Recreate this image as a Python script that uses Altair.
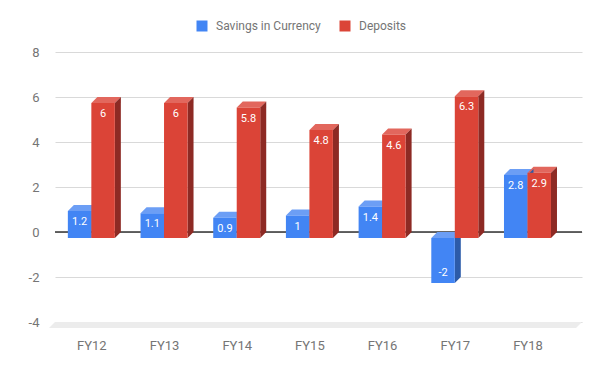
import json
import altair as alt
import pandas as pd

# ---- data ----
categories = ["FY12", "FY13", "FY14", "FY15", "FY16", "FY17", "FY18"]
series = ["Savings in Currency", "Deposits"]
savings = [1.2, 1.1, 0.9, 1.0, 1.4, -2.0, 2.8]
deposits = [6.0, 6.0, 5.8, 4.8, 4.6, 6.3, 2.9]
y_ticks = [-4, -2, 0, 2, 4, 6, 8]

# ---- style constants ----
FRONT = ["#4285F4", "#DB4437"]
TOP = ["#6C9EF5", "#E2675D"]
SIDE = ["#2C5BA9", "#8D2A24"]
PLOT_W, PLOT_H = 527, 270
X_MAX = 7.25                      # x domain in category units
PX_X = PLOT_W / X_MAX             # pixels per x unit
PX_Y = PLOT_H / 12.0              # pixels per y unit
DX = 6 / PX_X                     # 3D depth, x
DY = 6 / PX_Y                     # 3D depth, y
W = 23.5 / PX_X                   # bar width
FONT = "Roboto"
GRAY = "#757575"

front_rows, top_rows, side_rows, label_rows = [], [], [], []
for i, cat in enumerate(categories):
    c = i + 0.5
    for s, vals in enumerate([savings, deposits]):
        v = vals[i]
        x0 = c - W if s == 0 else c
        x1 = x0 + W
        name = series[s]
        fid = f"{cat}-{s}"
        front_rows.append(dict(series=name, x0=x0, x1=x1, ya=v - DY, yb=-DY))
        t = max(v, 0)
        top_rows.append(dict(series=name, fid=fid, y=t - DY, xa=x0, xb=x1))
        top_rows.append(dict(series=name, fid=fid, y=t, xa=x0 + DX, xb=x1 + DX))
        side_rows.append(dict(series=name, fid=fid, x=x1, ya=v - DY, yb=-DY))
        side_rows.append(dict(series=name, fid=fid, x=x1 + DX, ya=v, yb=0))
        label_rows.append(dict(series=name, x=(x0 + x1) / 2, y=v - DY,
                               label=f"{v:g}", pos=v >= 0))

front_df = pd.DataFrame(front_rows)
top_df = pd.DataFrame(top_rows)
side_df = pd.DataFrame(side_rows)
label_df = pd.DataFrame(label_rows)
floor_df = pd.DataFrame([
    dict(y=-4 - DY, xa=0 - DX, xb=X_MAX - DX),
    dict(y=-4, xa=0, xb=X_MAX),
])

xscale = alt.Scale(domain=[0, X_MAX], nice=False, zero=False)
yscale = alt.Scale(domain=[-4, 8], nice=False, zero=False)
xax = alt.Axis(title=None, values=[i + 0.5 for i in range(len(categories))],
               labelExpr=f"{json.dumps(categories)}[floor(datum.value)]",
               grid=False, ticks=False, domain=False, labelPadding=17,
               labelFont=FONT, labelFontSize=13, labelColor=GRAY)
yax = alt.Axis(title=None, values=y_ticks, grid=True, gridColor="#d9d9d9",
               labelExpr="'' + datum.value",
               ticks=False, domain=False, labelPadding=16,
               labelFont=FONT, labelFontSize=13, labelColor=GRAY)

floor = alt.Chart(floor_df).mark_area(orient="horizontal", color="#ececec").encode(
    y=alt.Y("y:Q", scale=yscale, axis=yax),
    x=alt.X("xa:Q", scale=xscale, axis=xax),
    x2="xb:Q",
)

zero = alt.Chart(floor_df).mark_rule(color="#333333", strokeWidth=1).encode(
    y=alt.datum(0),
)

top = alt.Chart(top_df).mark_area(orient="horizontal").encode(
    y=alt.Y("y:Q", scale=yscale, axis=yax),
    x=alt.X("xa:Q", scale=xscale, axis=xax),
    x2="xb:Q",
    detail="fid:N",
    fill=alt.Fill("series:N", scale=alt.Scale(domain=series, range=TOP), legend=None),
)

side = alt.Chart(side_df).mark_area(orient="vertical").encode(
    x=alt.X("x:Q", scale=xscale, axis=xax),
    y=alt.Y("ya:Q", scale=yscale, axis=yax),
    y2="yb:Q",
    detail="fid:N",
    color=alt.Color("series:N", scale=alt.Scale(domain=series, range=SIDE), legend=None),
)

front = alt.Chart(front_df).mark_rect().encode(
    x=alt.X("x0:Q", scale=xscale, axis=xax),
    x2="x1:Q",
    y=alt.Y("ya:Q", scale=yscale, axis=yax),
    y2="yb:Q",
    color=alt.Color("series:N", scale=alt.Scale(domain=series, range=FRONT),
                    legend=alt.Legend(title=None)),
)

lab_pos = alt.Chart(label_df).transform_filter("datum.pos").mark_text(
    color="white", font=FONT, fontSize=11, baseline="middle", dy=11
).encode(
    x=alt.X("x:Q", scale=xscale, axis=xax),
    y=alt.Y("y:Q", scale=yscale, axis=yax),
    text="label:N",
)
lab_neg = alt.Chart(label_df).transform_filter("!datum.pos").mark_text(
    color="white", font=FONT, fontSize=11, baseline="middle", dy=-10
).encode(
    x=alt.X("x:Q", scale=xscale, axis=xax),
    y=alt.Y("y:Q", scale=yscale, axis=yax),
    text="label:N",
)

chart = alt.layer(floor, zero, top, side, front, lab_pos, lab_neg).resolve_scale(
    color="independent", fill="independent"
).properties(
    width=PLOT_W, height=PLOT_H,
    autosize=alt.AutoSizeParams(type="none"),
    padding={"left": 47, "top": 44, "right": 10, "bottom": 41},
).configure_view(stroke=None).configure_legend(
    orient="none", legendX=141, legendY=-32, direction="horizontal",
    symbolType="square", symbolSize=121, symbolStrokeWidth=0,
    labelFont=FONT, labelFontSize=12, labelColor=GRAY,
    labelOffset=8, columnPadding=18, padding=0,
)

chart.save("out.html", embed_options={"renderer": "svg", "actions": False})
